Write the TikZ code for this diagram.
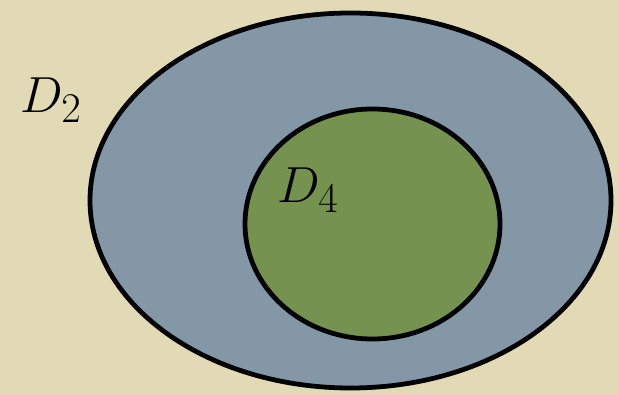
\documentclass[tikz,border=0pt]{standalone}
\usetikzlibrary{positioning}

\definecolor{paper}{HTML}{E2D9B5}
\definecolor{slate}{HTML}{8397A6}
\definecolor{olive}{HTML}{76924F}

\begin{document}
\begin{tikzpicture}[
    region/.style={draw=black, line width=3.4pt},
    setlabel/.style={font=\Huge, inner sep=0pt, scale=1.45, transform shape}
]

% Background
\fill[paper] (0,0) rectangle (15.475,9.875);
\useasboundingbox (0,0) rectangle (15.475,9.875);

% Outer set D_2
\draw[region, fill=slate] (8.7625,4.8625) ellipse [x radius=6.5125, y radius=4.6875];
\node[setlabel] (d2) at (1.275,7.375) {$D_2$};

% Inner set D_4
\draw[region, fill=olive] (9.3125,4.275) ellipse [x radius=3.1875, y radius=2.875];
\node[setlabel] (d4) at (7.7,5.125) {$D_4$};

\end{tikzpicture}
\end{document}
